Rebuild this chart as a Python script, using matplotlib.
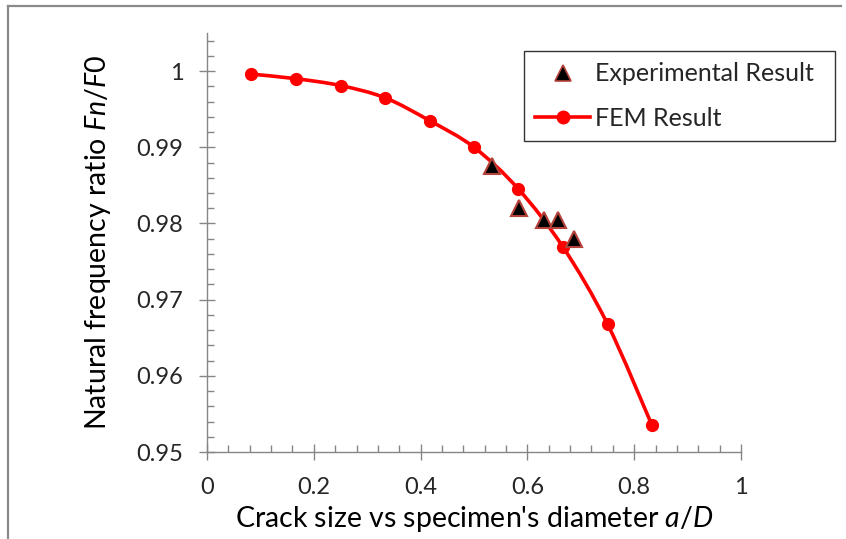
import matplotlib
matplotlib.use("Agg")
import matplotlib.pyplot as plt
from matplotlib.path import Path
from matplotlib.patches import PathPatch
from matplotlib.lines import Line2D
from matplotlib.ticker import MultipleLocator, FixedLocator, FuncFormatter
import numpy as np

plt.rcParams['font.family'] = ['Lato', 'DejaVu Sans']
plt.rcParams['mathtext.fontset'] = 'custom'
plt.rcParams['mathtext.it'] = 'Lato:italic'
plt.rcParams['mathtext.rm'] = 'Lato'

# ---- data ----
x_fem = [0.0833, 0.1667, 0.25, 0.3333, 0.4167, 0.5, 0.5833, 0.6667, 0.75, 0.8333]
y_fem = [0.9996, 0.9990, 0.9981, 0.9965, 0.9935, 0.9900, 0.9845, 0.9769, 0.9668, 0.9535]
x_exp = [0.534, 0.585, 0.632, 0.658, 0.687]
y_exp = [0.9875, 0.9820, 0.9804, 0.9805, 0.9779]
x_ticks = [0, 0.2, 0.4, 0.6, 0.8, 1]
y_ticks = [0.95, 0.96, 0.97, 0.98, 0.99, 1.0]
label_exp = "Experimental Result"
label_fem = "FEM Result"
xlabel = r"Crack size vs specimen's diameter $\mathit{a/D}$"
ylabel = r"Natural frequency ratio $\mathit{Fn/F0}$"

W, H = 846, 539
fig = plt.figure(figsize=(W/100, H/100), dpi=100)
ax = fig.add_axes([207/W, 1-452/H, (741-207)/W, (452-33)/H])

axis_col = '#868686'
red = '#FF0000'

# smooth (Excel-style) curve through FEM points via cubic Bezier segments
pts = np.column_stack([x_fem, y_fem])
n = len(pts)
verts = [tuple(pts[0])]
codes = [Path.MOVETO]
for i in range(n-1):
    p0 = pts[i-1] if i > 0 else pts[i]
    p1 = pts[i]
    p2 = pts[i+1]
    p3 = pts[i+2] if i+2 < n else pts[i+1]
    c1 = p1 + (p2 - p0)/6.0
    c2 = p2 - (p3 - p1)/6.0
    verts += [tuple(c1), tuple(c2), tuple(p2)]
    codes += [Path.CURVE4]*3
ax.add_patch(PathPatch(Path(verts, codes), facecolor='none', edgecolor=red, lw=2.6, zorder=3))
ax.plot(x_fem, y_fem, linestyle='none', marker='o', ms=8.5, color=red, mec=red, zorder=4)

ax.plot(x_exp, y_exp, linestyle='none', marker='^', ms=12, mfc='black',
        mec='#B5423A', mew=1.5, zorder=5)

ax.set_xlim(0, 1)
ax.set_ylim(0.95, 1.005)
ax.xaxis.set_major_locator(FixedLocator(x_ticks))
ax.yaxis.set_major_locator(FixedLocator(y_ticks))
ax.xaxis.set_minor_locator(MultipleLocator(0.04))
ax.yaxis.set_minor_locator(MultipleLocator(0.002))
ax.xaxis.set_major_formatter(FuncFormatter(lambda v, p: f"{v:g}"))
ax.yaxis.set_major_formatter(FuncFormatter(lambda v, p: f"{v:g}"))

for s in ['top', 'right']:
    ax.spines[s].set_visible(False)
for s in ['left', 'bottom']:
    ax.spines[s].set_color(axis_col)
    ax.spines[s].set_linewidth(1.0)

ax.tick_params(which='major', direction='inout', length=12, width=1.0, color=axis_col,
               labelsize=17, labelcolor='#262626')
ax.tick_params(axis='x', which='major', pad=12)
ax.tick_params(axis='y', which='major', pad=11)
ax.tick_params(which='minor', direction='in', length=5, width=1.0, color=axis_col)

ax.set_xlabel(xlabel, fontsize=20.5, color='black', labelpad=4)
ax.set_ylabel(ylabel, fontsize=20.5, color='black', labelpad=17)

handles = [Line2D([], [], linestyle='none', marker='^', ms=11, mfc='black', mec='#B5423A', mew=1.2),
           Line2D([], [], color=red, lw=2.6, marker='o', ms=9)]
leg = fig.legend(handles, [label_exp, label_fem], loc='upper left',
                 bbox_to_anchor=(524/W, 1-51/H, 311/W, 0), mode='expand', borderaxespad=0,
                 fontsize=18, frameon=True,
                 fancybox=False, edgecolor='black', handlelength=2.2,
                 borderpad=0.45, labelspacing=0.85, handletextpad=0.2)
leg.get_frame().set_linewidth(1.0)
for t in leg.get_texts():
    t.set_color('#262626')

# outer border (left and top)
fig.add_artist(Line2D([8/W, 8/W], [0, 1-6/H], transform=fig.transFigure, color='#8a8a8a', lw=1.6))
fig.add_artist(Line2D([8/W, 841/W], [1-6/H, 1-6/H], transform=fig.transFigure, color='#8a8a8a', lw=1.6))

fig.savefig("out.png", dpi=100)
